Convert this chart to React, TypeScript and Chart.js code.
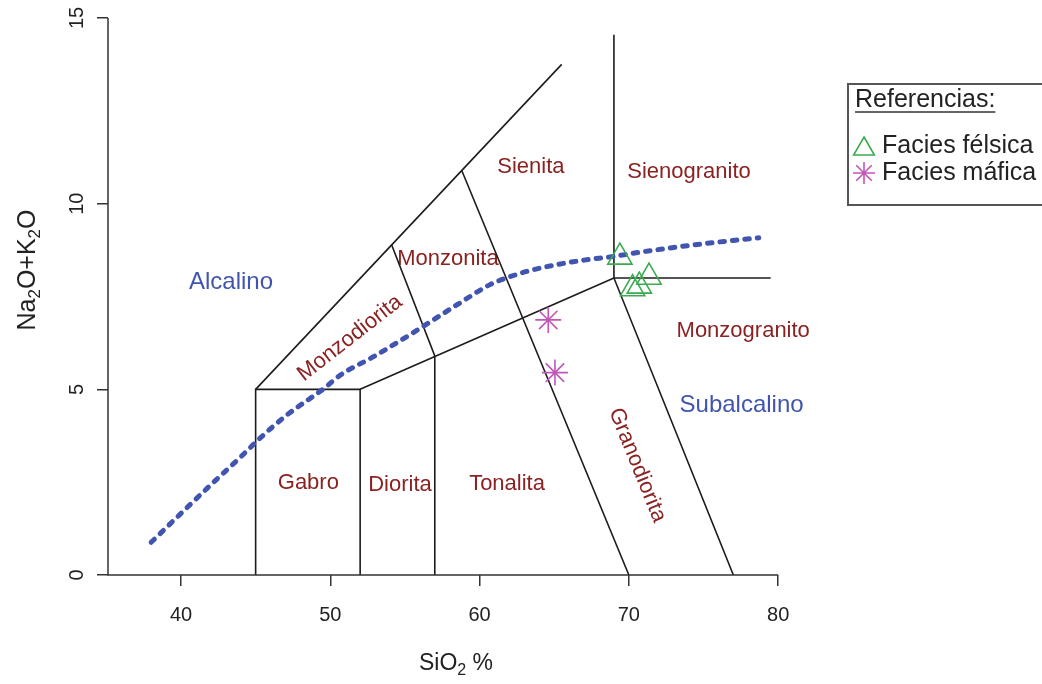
import React, { useEffect, useRef } from "react";
import { Chart, registerables } from "chart.js";

Chart.register(...registerables);

const FONT = '"Liberation Sans", Arial, Helvetica, sans-serif';

// Axis ranges and tick values (SiO2 wt% vs Na2O+K2O wt%)
const xRange = [35.11, 82];
const yRange = [0, 15];
const xTickValues = [40, 50, 60, 70, 80];
const yTickValues = [0, 5, 10, 15];

// Field boundaries of the classification diagram
const gabroBoxX = [45, 45, 52, 52];
const gabroBoxY = [0, 5, 5, 0];
const lowerEdgeX = [52, 69];
const lowerEdgeY = [5, 8];
const dioritaEdgeX = [57, 57, 54.1];
const dioritaEdgeY = [0, 5.9, 8.9];
const upperEdgeX = [45, 65.5];
const upperEdgeY = [5, 13.75];
const sienitaEdgeX = [58.8, 70];
const sienitaEdgeY = [10.9, 0];
const granitoEdgeX = [69, 69, 77];
const granitoEdgeY = [14.55, 8, 0];
const monzogranitoTopX = [69, 79.5];
const monzogranitoTopY = [8, 8];

// Alkaline / subalkaline divide
const divideX = [38.0, 40.0, 42.0, 44.0, 45.2, 47.0, 49.6, 50.7, 52.9, 56.2, 58.5, 60.7, 61.8, 63.2, 65.2, 67.0, 69.0, 70.7, 73.0, 75.0, 77.0, 78.7];
const divideY = [0.88, 1.66, 2.43, 3.18, 3.65, 4.28, 5.03, 5.39, 5.88, 6.69, 7.28, 7.82, 8.0, 8.18, 8.36, 8.48, 8.58, 8.69, 8.82, 8.92, 9.01, 9.08];

// Samples
const felsicSiO2 = [69.4, 70.25, 70.7, 71.35];
const felsicAlk = [8.56, 7.71, 7.78, 8.02];
const maficSiO2 = [64.6, 65.05];
const maficAlk = [6.87, 5.45];

// Field names and where they sit in the diagram
const fieldNames = ["Gabro", "Diorita", "Tonalita", "Monzodiorita", "Monzonita", "Sienita", "Sienogranito", "Monzogranito", "Granodiorita"];
const fieldNameX = [48.53, 54.67, 61.84, 51.32, 57.88, 63.44, 74.03, 77.66, 70.56];
const fieldNameY = [2.47, 2.43, 2.45, 6.38, 8.5, 11.0, 10.86, 6.56, 2.96];
const fieldNameAngle = [0, 0, 0, -38, 0, 0, 0, 0, 68];
const seriesNames = ["Alcalino", "Subalcalino"];
const seriesNameX = [43.35, 77.55];
const seriesNameY = [7.87, 4.58];

const LINE_COLOR = "#1c1c1c";
const FIELD_TEXT = "#8a2222";
const DIVIDE_COLOR = "#4155b0";
const FELSIC_COLOR = "#3caa50";
const MAFIC_COLOR = "#c355b8";

const pts = (xs: number[], ys: number[]) => xs.map((x, i) => ({ x, y: ys[i] }));

const boundary = (xs: number[], ys: number[]) => ({
  data: pts(xs, ys),
  showLine: true,
  borderColor: LINE_COLOR,
  borderWidth: 1.6,
  pointRadius: 0,
  tension: 0,
  order: 3,
});

// Text with subscripted segments, drawn left to right from x
function drawRich(ctx: CanvasRenderingContext2D, parts: [string, boolean][], size: number, x: number, y: number) {
  let cx = x;
  for (const [t, sub] of parts) {
    ctx.font = `${sub ? Math.round(size * 0.68) : size}px ${FONT}`;
    ctx.fillText(t, cx, sub ? y + size * 0.3 : y);
    cx += ctx.measureText(t).width;
  }
}
function richWidth(ctx: CanvasRenderingContext2D, parts: [string, boolean][], size: number) {
  let w = 0;
  for (const [t, sub] of parts) {
    ctx.font = `${sub ? Math.round(size * 0.68) : size}px ${FONT}`;
    w += ctx.measureText(t).width;
  }
  return w;
}

function triangle(ctx: CanvasRenderingContext2D, x: number, y: number, r: number) {
  ctx.beginPath();
  ctx.moveTo(x, y - r);
  ctx.lineTo(x + 0.866 * r, y + 0.5 * r);
  ctx.lineTo(x - 0.866 * r, y + 0.5 * r);
  ctx.closePath();
  ctx.stroke();
}
function asterisk(ctx: CanvasRenderingContext2D, x: number, y: number, r: number) {
  ctx.beginPath();
  for (let k = 0; k < 4; k++) {
    const a = (k * Math.PI) / 4;
    ctx.moveTo(x - Math.cos(a) * r, y - Math.sin(a) * r);
    ctx.lineTo(x + Math.cos(a) * r, y + Math.sin(a) * r);
  }
  ctx.stroke();
}

const decorations = {
  id: "decorations",
  beforeDatasetsDraw(chart: any) {
    const { ctx, scales } = chart;
    const xs = scales.x;
    const ys = scales.y;
    ctx.save();
    ctx.textAlign = "center";
    ctx.textBaseline = "middle";
    fieldNames.forEach((name, i) => {
      ctx.save();
      ctx.translate(xs.getPixelForValue(fieldNameX[i]), ys.getPixelForValue(fieldNameY[i]));
      ctx.rotate((fieldNameAngle[i] * Math.PI) / 180);
      ctx.font = `22px ${FONT}`;
      ctx.fillStyle = FIELD_TEXT;
      ctx.fillText(name, 0, 0);
      ctx.restore();
    });
    seriesNames.forEach((name, i) => {
      ctx.font = `24px ${FONT}`;
      ctx.fillStyle = DIVIDE_COLOR;
      ctx.fillText(name, xs.getPixelForValue(seriesNameX[i]), ys.getPixelForValue(seriesNameY[i]));
    });
    ctx.restore();
  },
  afterDraw(chart: any) {
    const { ctx, scales, chartArea } = chart;
    const xs = scales.x;
    const ys = scales.y;
    ctx.save();
    // axis lines
    ctx.strokeStyle = "#333";
    ctx.lineWidth = 1.5;
    ctx.beginPath();
    ctx.moveTo(chartArea.left, ys.getPixelForValue(yTickValues[yTickValues.length - 1]));
    ctx.lineTo(chartArea.left, ys.getPixelForValue(0));
    ctx.lineTo(xs.getPixelForValue(xTickValues[xTickValues.length - 1]), ys.getPixelForValue(0));
    ctx.stroke();

    // tick labels
    ctx.fillStyle = "#222";
    ctx.font = `20px ${FONT}`;
    ctx.textAlign = "center";
    ctx.textBaseline = "middle";
    xTickValues.forEach((v) => ctx.fillText(String(v), xs.getPixelForValue(v), 615));
    yTickValues.forEach((v) => {
      ctx.save();
      ctx.translate(77, ys.getPixelForValue(v));
      ctx.rotate(-Math.PI / 2);
      ctx.fillText(String(v), 0, 0);
      ctx.restore();
    });

    // axis titles
    ctx.textAlign = "left";
    const xt: [string, boolean][] = [["SiO", false], ["2", true], [" %", false]];
    const xw = richWidth(ctx, xt, 23);
    drawRich(ctx, xt, 23, 456 - xw / 2, 664);
    const yt: [string, boolean][] = [["Na", false], ["2", true], ["O+K", false], ["2", true], ["O", false]];
    ctx.save();
    ctx.translate(28, 270);
    ctx.rotate(-Math.PI / 2);
    const yw = richWidth(ctx, yt, 25);
    drawRich(ctx, yt, 25, -yw / 2, 0);
    ctx.restore();

    // legend
    ctx.strokeStyle = "#555";
    ctx.lineWidth = 2;
    ctx.strokeRect(848, 84, 220, 121);
    ctx.fillStyle = "#222";
    ctx.font = `25px ${FONT}`;
    ctx.textAlign = "left";
    ctx.fillText("Referencias:", 855, 100);
    const tw = ctx.measureText("Referencias:").width;
    ctx.strokeStyle = "#333";
    ctx.lineWidth = 1.5;
    ctx.beginPath();
    ctx.moveTo(855, 112);
    ctx.lineTo(855 + tw, 112);
    ctx.stroke();
    ctx.fillText("Facies félsica", 882, 146);
    ctx.fillText("Facies máfica", 882, 173);
    ctx.lineWidth = 1.6;
    ctx.strokeStyle = FELSIC_COLOR;
    triangle(ctx, 864, 149, 12);
    ctx.strokeStyle = MAFIC_COLOR;
    asterisk(ctx, 864, 173, 11);
    ctx.restore();
  },
};

export default function App() {
  const ref = useRef<HTMLCanvasElement>(null);

  useEffect(() => {
    const canvas = ref.current;
    if (!canvas) return;
    const chart = new Chart(canvas, {
      type: "scatter",
      data: {
        datasets: [
          {
            data: pts(felsicSiO2, felsicAlk),
            pointStyle: "triangle",
            pointRadius: 14,
            borderColor: FELSIC_COLOR,
            backgroundColor: "rgba(0,0,0,0)",
            pointBorderWidth: 1.6,
            order: 0,
          } as any,
          {
            data: pts(maficSiO2, maficAlk),
            pointStyle: "star",
            pointRadius: 13,
            borderColor: MAFIC_COLOR,
            backgroundColor: "rgba(0,0,0,0)",
            pointBorderWidth: 1.6,
            order: 0,
          } as any,
          {
            data: pts(divideX, divideY),
            showLine: true,
            borderColor: DIVIDE_COLOR,
            borderWidth: 5,
            borderDash: [4.5, 8],
            borderCapStyle: "round",
            cubicInterpolationMode: "monotone",
            pointRadius: 0,
            order: 1,
          } as any,
          boundary(gabroBoxX, gabroBoxY),
          boundary(lowerEdgeX, lowerEdgeY),
          boundary(dioritaEdgeX, dioritaEdgeY),
          boundary(upperEdgeX, upperEdgeY),
          boundary(sienitaEdgeX, sienitaEdgeY),
          boundary(granitoEdgeX, granitoEdgeY),
          boundary(monzogranitoTopX, monzogranitoTopY),
        ],
      },
      options: {
        responsive: false,
        animation: false,
        devicePixelRatio: 1,
        events: [],
        layout: { padding: { left: 0, top: 18, right: 234, bottom: 0 } },
        plugins: { legend: { display: false }, tooltip: { enabled: false } },
        scales: {
          x: {
            type: "linear",
            min: xRange[0],
            max: xRange[1],
            afterBuildTicks: (s: any) => {
              s.ticks = xTickValues.map((v) => ({ value: v }));
            },
            afterFit: (s: any) => {
              s.height = 109;
            },
            grid: { display: true, drawOnChartArea: false, drawTicks: true, tickLength: 11, color: "#333", lineWidth: 1.5 },
            border: { display: false },
            ticks: { display: false },
          },
          y: {
            type: "linear",
            min: yRange[0],
            max: yRange[1],
            afterBuildTicks: (s: any) => {
              s.ticks = yTickValues.map((v) => ({ value: v }));
            },
            afterFit: (s: any) => {
              s.width = 108;
            },
            grid: { display: true, drawOnChartArea: false, drawTicks: true, tickLength: 11, color: "#333", lineWidth: 1.5 },
            border: { display: false },
            ticks: { display: false },
          },
        },
      } as any,
      plugins: [decorations],
    });
    return () => chart.destroy();
  }, []);

  return (
    <div style={{ position: "fixed", left: 0, top: 0, width: 1042, height: 684, background: "#fff" }}>
      <canvas ref={ref} width={1042} height={684} style={{ display: "block", width: 1042, height: 684 }} />
    </div>
  );
}
